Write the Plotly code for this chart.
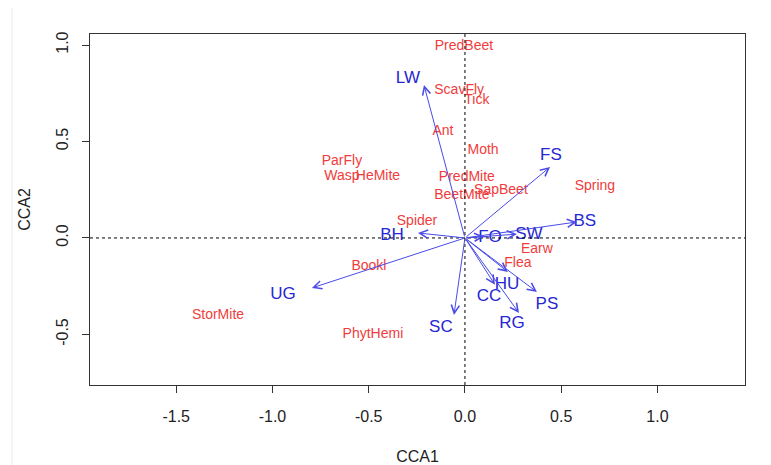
import plotly.graph_objects as go

# Species scores (red labels)
species = ["PredBeet", "ScavFly", "Tick", "Ant", "Moth", "ParFly", "Wasp", "HeMite",
           "PredMite", "SapBeet", "BeetMite", "Spring", "Spider", "Earw", "Flea",
           "Bookl", "PhytHemi", "StorMite"]
sp_x = [-0.005, -0.03, 0.062, -0.114, 0.094, -0.639, -0.639, -0.452,
        0.01, 0.187, -0.016, 0.675, -0.249, 0.374, 0.275,
        -0.499, -0.478, -1.283]
sp_y = [0.99, 0.765, 0.713, 0.553, 0.455, 0.398, 0.317, 0.317,
        0.315, 0.248, 0.222, 0.269, 0.087, -0.058, -0.13,
        -0.146, -0.498, -0.4]

# Environmental vectors (blue arrows)
env = ["LW", "FS", "BS", "SW", "FO", "BH", "UG", "SC", "CC", "HU", "PS", "RG"]
env_x = [-0.213, 0.442, 0.582, 0.27, 0.10, -0.244, -0.795, -0.057, 0.156, 0.223, 0.374, 0.281]
env_y = [0.793, 0.368, 0.083, 0.02, 0.008, 0.026, -0.259, -0.399, -0.243, -0.176, -0.280, -0.389]
# label positions for the vectors
lab_x = [-0.296, 0.447, 0.623, 0.332, 0.13, -0.379, -0.945, -0.125, 0.125, 0.218, 0.426, 0.244]
lab_y = [0.827, 0.428, 0.086, 0.019, 0.003, 0.009, -0.292, -0.463, -0.307, -0.245, -0.344, -0.447]

x_ticks = [-1.5, -1.0, -0.5, 0.0, 0.5, 1.0]
y_ticks = [-0.5, 0.0, 0.5, 1.0]

RED = "#F03C3C"
BLUE_TXT = "#2626D2"
BLUE_ARR = "#4A4AE6"
FONT = "Liberation Sans, Arial, sans-serif"

fig = go.Figure()

fig.add_trace(go.Scatter(
    x=sp_x, y=sp_y, mode="text", text=species,
    textfont=dict(family=FONT, size=14, color=RED),
    hoverinfo="text", showlegend=False))

fig.add_trace(go.Scatter(
    x=lab_x, y=lab_y, mode="text", text=env,
    textfont=dict(family=FONT, size=17, color=BLUE_TXT),
    hoverinfo="text", showlegend=False))

for ex, ey in zip(env_x, env_y):
    fig.add_annotation(
        x=ex, y=ey, ax=0, ay=0, xref="x", yref="y", axref="x", ayref="y",
        text="", showarrow=True, arrowhead=5, arrowsize=1.6, arrowwidth=1,
        arrowcolor=BLUE_ARR, standoff=0, startstandoff=0)

# dotted zero lines
fig.add_hline(y=0, line=dict(color="black", width=1, dash="dot"))
fig.add_vline(x=0, line=dict(color="black", width=1, dash="dot"))

# faint left border of the image
fig.add_shape(type="line", xref="paper", yref="paper", x0=-0.119, x1=-0.119, y0=-0.3, y1=1.1,
              line=dict(color="#EBEBEB", width=1))

axis_common = dict(
    showgrid=False, zeroline=False, showline=True, linecolor="#333333", linewidth=1,
    mirror=True, ticks="outside", ticklen=7, tickcolor="#333333", automargin=False,
    tickfont=dict(family=FONT, size=16, color="#222222"),
    title_font=dict(family=FONT, size=16, color="#222222"))

fig.update_xaxes(range=[-1.948, 1.455], tickvals=x_ticks,
                 ticktext=[f"{v:.1f}" for v in x_ticks], ticklabelstandoff=10,
                 title_text="CCA1", title_standoff=27, **axis_common)
fig.update_yaxes(range=[-0.762, 1.057], tickvals=y_ticks,
                 ticktext=[f"{v:.1f}" for v in y_ticks], tickangle=-90,
                 ticklabelstandoff=8,
                 title_text="CCA2", title_standoff=18, **axis_common)

fig.update_layout(
    width=763, height=457,
    margin=dict(l=82, r=26, t=26, b=80),
    paper_bgcolor="white", plot_bgcolor="white",
    font=dict(family=FONT))

fig.write_html("out.html")
